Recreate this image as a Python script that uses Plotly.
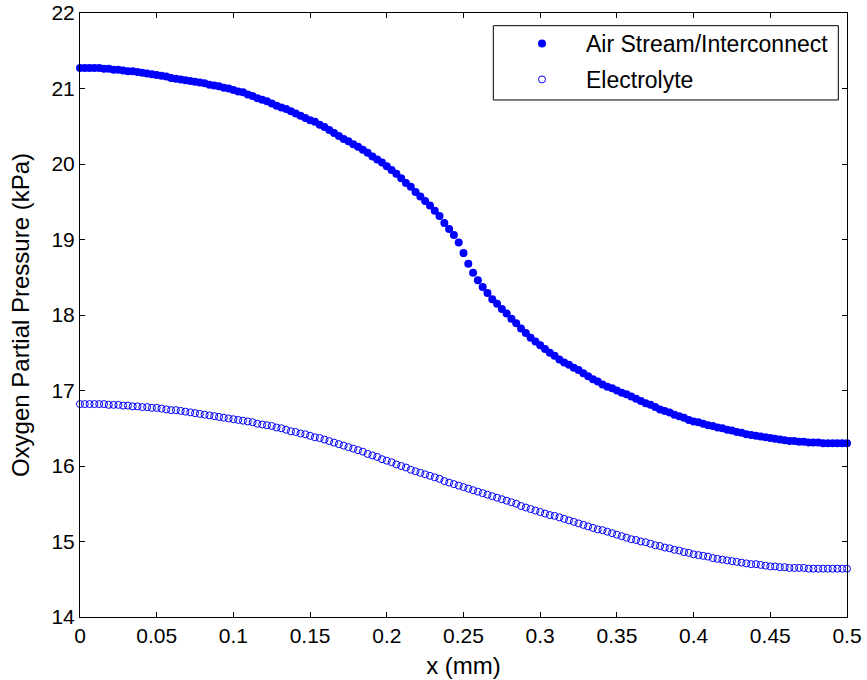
import plotly.graph_objects as go

x_mm = [
    0.0, 0.003125, 0.00625, 0.009375, 0.0125, 0.015625, 0.01875, 0.021875,
    0.025, 0.028125, 0.03125, 0.034375, 0.0375, 0.040625, 0.04375, 0.046875,
    0.05, 0.053125, 0.05625, 0.059375, 0.0625, 0.065625, 0.06875, 0.071875,
    0.075, 0.078125, 0.08125, 0.084375, 0.0875, 0.090625, 0.09375, 0.096875,
    0.1, 0.103125, 0.10625, 0.109375, 0.1125, 0.115625, 0.11875, 0.121875,
    0.125, 0.128125, 0.13125, 0.134375, 0.1375, 0.140625, 0.14375, 0.146875,
    0.15, 0.153125, 0.15625, 0.159375, 0.1625, 0.165625, 0.16875, 0.171875,
    0.175, 0.178125, 0.18125, 0.184375, 0.1875, 0.190625, 0.19375, 0.196875,
    0.2, 0.203125, 0.20625, 0.209375, 0.2125, 0.215625, 0.21875, 0.221875,
    0.225, 0.228125, 0.23125, 0.234375, 0.2375, 0.240625, 0.24375, 0.246875,
    0.25, 0.253125, 0.25625, 0.259375, 0.2625, 0.265625, 0.26875, 0.271875,
    0.275, 0.278125, 0.28125, 0.284375, 0.2875, 0.290625, 0.29375, 0.296875,
    0.3, 0.303125, 0.30625, 0.309375, 0.3125, 0.315625, 0.31875, 0.321875,
    0.325, 0.328125, 0.33125, 0.334375, 0.3375, 0.340625, 0.34375, 0.346875,
    0.35, 0.353125, 0.35625, 0.359375, 0.3625, 0.365625, 0.36875, 0.371875,
    0.375, 0.378125, 0.38125, 0.384375, 0.3875, 0.390625, 0.39375, 0.396875,
    0.4, 0.403125, 0.40625, 0.409375, 0.4125, 0.415625, 0.41875, 0.421875,
    0.425, 0.428125, 0.43125, 0.434375, 0.4375, 0.440625, 0.44375, 0.446875,
    0.45, 0.453125, 0.45625, 0.459375, 0.4625, 0.465625, 0.46875, 0.471875,
    0.475, 0.478125, 0.48125, 0.484375, 0.4875, 0.490625, 0.49375, 0.496875,
    0.5,
]

air_stream = [
    21.27, 21.27, 21.27, 21.27, 21.27, 21.26, 21.26, 21.25,
    21.25, 21.24, 21.23, 21.23, 21.22, 21.21, 21.20, 21.19,
    21.18, 21.17, 21.16, 21.14, 21.13, 21.12, 21.11, 21.10,
    21.09, 21.08, 21.07, 21.05, 21.04, 21.03, 21.01, 21.00,
    20.98, 20.96, 20.95, 20.92, 20.90, 20.87, 20.85, 20.83,
    20.80, 20.77, 20.75, 20.73, 20.70, 20.67, 20.64, 20.61,
    20.58, 20.56, 20.52, 20.49, 20.45, 20.41, 20.37, 20.33,
    20.30, 20.26, 20.23, 20.19, 20.15, 20.10, 20.06, 20.02,
    19.97, 19.92, 19.87, 19.81, 19.75, 19.70, 19.63, 19.57,
    19.51, 19.45, 19.38, 19.31, 19.22, 19.14, 19.06, 18.96,
    18.82, 18.68, 18.56, 18.46, 18.37, 18.29, 18.21, 18.15,
    18.08, 18.02, 17.95, 17.89, 17.82, 17.76, 17.70, 17.65,
    17.60, 17.55, 17.50, 17.46, 17.41, 17.37, 17.34, 17.30,
    17.27, 17.23, 17.19, 17.15, 17.12, 17.08, 17.05, 17.03,
    17.00, 16.97, 16.95, 16.92, 16.89, 16.86, 16.83, 16.81,
    16.78, 16.75, 16.73, 16.71, 16.68, 16.66, 16.64, 16.61,
    16.59, 16.58, 16.56, 16.54, 16.53, 16.51, 16.50, 16.48,
    16.47, 16.45, 16.44, 16.42, 16.41, 16.40, 16.39, 16.38,
    16.37, 16.36, 16.35, 16.34, 16.33, 16.33, 16.32, 16.32,
    16.31, 16.31, 16.31, 16.30, 16.30, 16.30, 16.30, 16.30,
    16.30,
]

electrolyte = [
    16.82, 16.82, 16.82, 16.82, 16.82, 16.82, 16.81, 16.81,
    16.81, 16.80, 16.80, 16.79, 16.79, 16.78, 16.78, 16.77,
    16.77, 16.76, 16.75, 16.74, 16.74, 16.73, 16.72, 16.71,
    16.70, 16.69, 16.68, 16.67, 16.66, 16.65, 16.64, 16.63,
    16.62, 16.61, 16.60, 16.59, 16.58, 16.56, 16.55, 16.54,
    16.53, 16.51, 16.50, 16.48, 16.46, 16.45, 16.43, 16.42,
    16.40, 16.38, 16.37, 16.35, 16.33, 16.31, 16.29, 16.27,
    16.25, 16.23, 16.21, 16.19, 16.16, 16.14, 16.12, 16.09,
    16.07, 16.05, 16.02, 16.00, 15.98, 15.95, 15.93, 15.91,
    15.89, 15.87, 15.85, 15.83, 15.80, 15.78, 15.76, 15.74,
    15.72, 15.70, 15.68, 15.66, 15.64, 15.62, 15.60, 15.58,
    15.56, 15.54, 15.52, 15.50, 15.47, 15.45, 15.43, 15.41,
    15.39, 15.37, 15.35, 15.34, 15.32, 15.30, 15.28, 15.26,
    15.24, 15.22, 15.20, 15.18, 15.16, 15.15, 15.13, 15.11,
    15.09, 15.07, 15.05, 15.03, 15.02, 15.00, 14.99, 14.97,
    14.95, 14.94, 14.92, 14.91, 14.89, 14.88, 14.86, 14.85,
    14.83, 14.82, 14.81, 14.80, 14.78, 14.77, 14.76, 14.75,
    14.74, 14.73, 14.72, 14.71, 14.70, 14.70, 14.69, 14.68,
    14.67, 14.67, 14.66, 14.66, 14.65, 14.65, 14.65, 14.65,
    14.64, 14.64, 14.64, 14.64, 14.64, 14.64, 14.64, 14.64,
    14.64,
]

series_names = ["Air Stream/Interconnect", "Electrolyte"]
x_ticks = [0, 0.05, 0.1, 0.15, 0.2, 0.25, 0.3, 0.35, 0.4, 0.45, 0.5]
x_tick_labels = ["0", "0.05", "0.1", "0.15", "0.2", "0.25", "0.3", "0.35", "0.4", "0.45", "0.5"]
y_ticks = [14, 15, 16, 17, 18, 19, 20, 21, 22]

assert len(x_mm) == len(air_stream) == len(electrolyte)

FONT = "Liberation Sans, Arial, sans-serif"
BLUE = "#0000FF"

fig = go.Figure()
fig.add_trace(go.Scatter(
    x=x_mm, y=air_stream, mode="markers", name=series_names[0],
    legendgroup="a", cliponaxis=False,
    marker=dict(symbol="circle", size=8, color=BLUE, line=dict(width=0)),
))
fig.add_trace(go.Scatter(
    x=x_mm, y=electrolyte, mode="markers", name=series_names[1],
    legendgroup="b", cliponaxis=False,
    marker=dict(symbol="circle-open", size=7, color=BLUE, line=dict(width=1, color=BLUE)),
))

axis_common = dict(
    showgrid=False, zeroline=False, showline=True, linecolor="black", linewidth=1,
    mirror="ticks", ticks="inside", ticklen=5, tickcolor="black", tickwidth=1,
    tickfont=dict(family=FONT, size=21, color="black"), automargin=False,
    ticklabeloverflow="allow",
)

fig.update_xaxes(
    range=[0, 0.5], tickvals=x_ticks, ticktext=x_tick_labels,
    title=dict(text="x (mm)", font=dict(family=FONT, size=24, color="black"), standoff=10),
    **axis_common,
)
fig.update_yaxes(
    range=[14, 22], tickvals=y_ticks,
    title=dict(text="Oxygen Partial Pressure (kPa)", font=dict(family=FONT, size=24, color="black"), standoff=15),
    **axis_common,
)

# legend frame (MATLAB style box)
fig.add_shape(type="rect", xref="paper", yref="paper",
              x0=0.5389, x1=0.9887, y0=0.856, y1=0.979,
              line=dict(color="black", width=1), fillcolor="white", layer="above")

fig.update_layout(
    width=867, height=680,
    margin=dict(l=80, r=20, t=13, b=63),
    paper_bgcolor="white", plot_bgcolor="white",
    font=dict(family=FONT, color="black"),
    legend=dict(
        x=0.545, y=0.985, xanchor="left", yanchor="top",
        bgcolor="rgba(0,0,0,0)", borderwidth=0, itemwidth=78,
        font=dict(family=FONT, size=23, color="black"),
        traceorder="grouped", tracegroupgap=3,
    ),
)

fig.write_html(
    "out.html",
    config={"displayModeBar": False},
    post_script="document.body.style.margin='0';document.body.style.overflow='hidden';",
)
